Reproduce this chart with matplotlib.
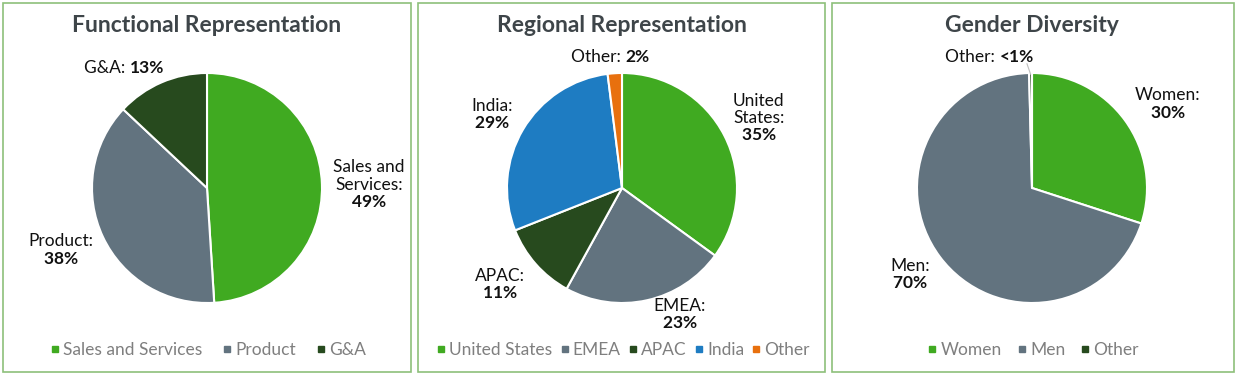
import matplotlib
matplotlib.use("Agg")
import matplotlib.pyplot as plt
from matplotlib.lines import Line2D
from matplotlib.patches import Rectangle
import numpy as np

plt.rcParams['font.family'] = ['Lato', 'DejaVu Sans']
plt.rcParams['mathtext.fontset'] = 'custom'
plt.rcParams['mathtext.rm'] = 'Lato'
plt.rcParams['mathtext.bf'] = 'Lato:bold'

GREEN = '#40AA21'
SLATE = '#62737F'
DKGREEN = '#274A1E'
BLUE = '#1E7CC2'
ORANGE = '#E8700E'

# ---- data ----
func_title = "Functional Representation"
func_cats = ["Sales and Services", "Product", "G&A"]
func_vals = [49, 38, 13]
func_labels = ["Sales and\nServices:", "Product:", "G&A:"]
func_pct = ["49%", "38%", "13%"]

reg_title = "Regional Representation"
reg_cats = ["United States", "EMEA", "APAC", "India", "Other"]
reg_vals = [35, 23, 11, 29, 2]
reg_labels = ["United\nStates:", "EMEA:", "APAC:", "India:", "Other:"]
reg_pct = ["35%", "23%", "11%", "29%", "2%"]

gen_title = "Gender Diversity"
gen_cats = ["Women", "Men", "Other"]
gen_vals = [30, 69.6, 0.4]
gen_labels = ["Women:", "Men:", "Other:"]
gen_pct = ["30%", "70%", "<1%"]

# label positions in pie-radius units; inline labels give their left edge
panels = [
    dict(title=func_title, cats=func_cats, vals=func_vals, labels=func_labels, pct=func_pct,
         colors=[GREEN, SLATE, DKGREEN],
         box=(3, 411), cx=207, colsp=1.15,
         lpos=[(1.41, 0.03), (-1.27, -0.54), (-1.07, 1.04)],
         inline=[False, False, True]),
    dict(title=reg_title, cats=reg_cats, vals=reg_vals, labels=reg_labels, pct=reg_pct,
         colors=[GREEN, SLATE, DKGREEN, BLUE, ORANGE],
         box=(418, 825), cx=622, colsp=0.4,
         lpos=[(1.19, 0.61), (0.50, -1.10), (-1.06, -0.84), (-1.13, 0.64), (-0.443, 1.14)],
         inline=[False, False, False, False, True]),
    dict(title=gen_title, cats=gen_cats, vals=gen_vals, labels=gen_labels, pct=gen_pct,
         colors=[GREEN, SLATE, DKGREEN],
         box=(832, 1234), cx=1032, colsp=0.85,
         lpos=[(1.18, 0.73), (-1.06, -0.75), (-0.757, 1.14)],
         inline=[False, False, True],
         leader=2),
]

W, H = 1237, 376
fig = plt.figure(figsize=(W / 100, H / 100), dpi=100)
R = 115.0
cy = 188
top, bot = 3, 372

for p in panels:
    x0, x1 = p['box']
    ax = fig.add_axes([x0 / W, 1 - bot / H, (x1 - x0) / W, (bot - top) / H])
    wedges, _ = ax.pie(p['vals'], colors=p['colors'], startangle=90, counterclock=False,
                       wedgeprops=dict(edgecolor='white', linewidth=1.5))
    ax.set_xlim(-(p['cx'] - x0) / R, (x1 - p['cx']) / R)
    ax.set_ylim(-(bot - cy) / R, (cy - top) / R)
    ax.set_aspect('auto')
    ax.axis('off')
    fig.patches.append(Rectangle((x0 / W, 1 - bot / H), (x1 - x0) / W, (bot - top) / H,
                                 transform=fig.transFigure, fill=False,
                                 edgecolor='#8DC07A', linewidth=1.2))
    ax.text(0, (cy - 25) / R, p['title'], ha='center', va='center', fontsize=16.5,
            fontweight='bold', color='#3E4549')
    for i, (lab, pc) in enumerate(zip(p['labels'], p['pct'])):
        lx, ly = p['lpos'][i]
        if p['inline'][i]:
            t1 = ax.text(lx, ly, lab + ' ', ha='left', va='center', fontsize=12.5,
                         color='#111111')
            ax.annotate(pc, xy=(1, 0.5), xycoords=t1, ha='left', va='center',
                        fontsize=12.5, fontweight='bold', color='#111111')
        else:
            pcs = pc.replace('%', r'\%')
            s = lab + '\n' + r'$\mathbf{' + pcs + '}$'
            ax.text(lx, ly, s, ha='center', va='center', fontsize=12.5, color='#111111',
                    multialignment='center', linespacing=1.1)
    if 'leader' in p:
        k = p['leader']
        cum = sum(p['vals'][:k]) + p['vals'][k] / 2
        ang = np.deg2rad(90 - 360 * cum / sum(p['vals']))
        ax.plot([np.cos(ang) * 1.08 - 0.03, np.cos(ang) * 0.99],
                [np.sin(ang) * 1.08, np.sin(ang) * 0.99],
                color='#BFBFBF', lw=0.8)
    handles = [Line2D([], [], marker='s', linestyle='none', markersize=4.5,
                      markerfacecolor=c, markeredgecolor=c) for c in p['colors']]
    ax.legend(handles, p['cats'], loc='center', ncol=len(p['cats']),
              bbox_to_anchor=(((p['cx'] + 1) - x0) / (x1 - x0), (bot - 350) / (bot - top)),
              frameon=False, fontsize=12.5, labelcolor='#7F7F7F',
              handlelength=0.6, handletextpad=0.17, columnspacing=p['colsp'],
              borderaxespad=0, borderpad=0)

fig.savefig('out.png', dpi=100, facecolor='white')
